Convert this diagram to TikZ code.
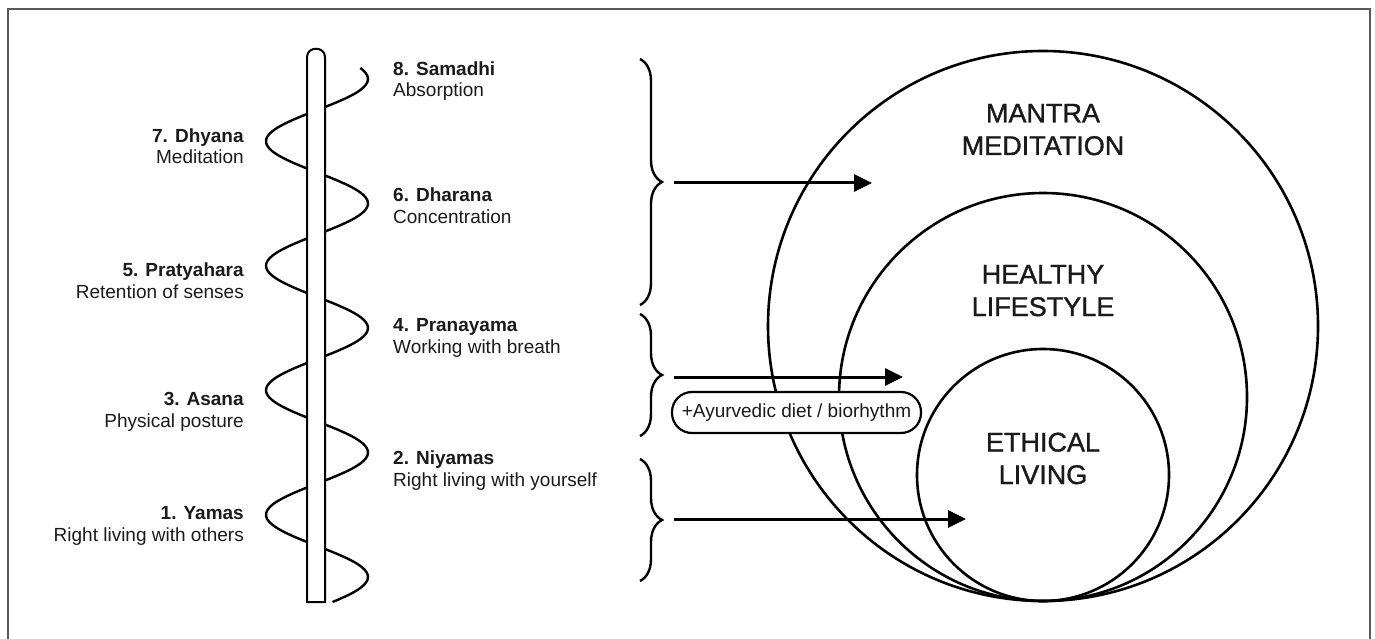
\documentclass[tikz,border=0pt]{standalone}
\usepackage{fontspec}
\setmainfont{Liberation Sans}
\newfontfamily\ringfont{Liberation Sans}[FakeBold=1.2]
\usepackage{xcolor}
\usepackage{tikz}
\usetikzlibrary{arrows.meta, decorations.pathreplacing}

\definecolor{ink}{HTML}{1A1A1A}
\definecolor{rim}{HTML}{5A5A5A}

\begin{document}
\begin{tikzpicture}[
    x=1pt, y=-1pt,
    limb/.style={text=ink, inner sep=0pt, font=\fontsize{19}{21.5}\selectfont},
    leftlimb/.style={limb, anchor=base east, align=right},
    rightlimb/.style={limb, anchor=base west, align=left},
    ring/.style={circle, draw, line width=2.6pt, inner sep=0pt},
    ringlabel/.style={text=ink, anchor=base, align=center, font=\ringfont\fontsize{27}{32.5}\selectfont},
    curly/.style={decorate, decoration={brace, amplitude=22pt}, line width=2.4pt},
    arrow/.style={-{Triangle[length=18pt, width=17pt]}, line width=3pt},
    pill/.style={rectangle, rounded corners=20pt, draw, fill=white, line width=2.2pt, minimum width=249pt, minimum height=41pt, text=ink, font=\fontsize{19}{21.5}\selectfont}
]
\useasboundingbox (0,0) rectangle (1375,639);

% frame
\draw[rim, line width=2.2pt] (8,639) -- (8,9) -- (1370,9) -- (1370,639);

% spiral round the pole
\draw[line width=2.4pt] plot[domain=68:602, samples=220, smooth] ({317+51*cos(2.8916*(\x-79))}, \x);
\draw[line width=2pt, fill=white] (307,602) -- (307,57) .. controls (307,46) and (325,46) .. (325,57) -- (325,602) -- cycle;

% the eight limbs
\node[rightlimb] (samadhi) at (393,97) {\textbf{8. Samadhi}\\Absorption};
\node[leftlimb] (dhyana) at (244,164) {\textbf{7. Dhyana}\\Meditation};
\node[rightlimb] (dharana) at (393,223) {\textbf{6. Dharana}\\Concentration};
\node[leftlimb] (pratyahara) at (244,298) {\textbf{5. Pratyahara}\\Retention of senses};
\node[rightlimb] (pranayama) at (393,353) {\textbf{4. Pranayama}\\Working with breath};
\node[leftlimb] (asana) at (244,427) {\textbf{3. Asana}\\Physical posture};
\node[rightlimb] (niyamas) at (393,486) {\textbf{2. Niyamas}\\Right living with yourself};
\node[leftlimb] (yamas) at (244,541) {\textbf{1. Yamas}\\Right living with others};

% circles
\node[ring, minimum size=550pt] (outer) at (1043,326) {};
\node[ring, minimum size=408pt] (middle) at (1043,397) {};
\node[ring, minimum size=252pt] (inner) at (1043,475) {};
\node[ringlabel] (mantra) at (1043,155) {MANTRA\\MEDITATION};
\node[ringlabel] (healthy) at (1043,316) {HEALTHY\\LIFESTYLE};
\node[ringlabel] (ethical) at (1043,484) {ETHICAL\\LIVING};

% braces
\draw[curly] (640,59) -- (640,305);
\draw[curly] (640,314) -- (640,436);
\draw[curly] (640,459) -- (640,581);

\coordinate (fromTop) at (674,183);
\coordinate (toTop) at (872,183);
\coordinate (fromMid) at (674,377);
\coordinate (toMid) at (903,377);
\coordinate (fromLow) at (674,519);
\coordinate (toLow) at (966,519);

\draw[arrow] (fromTop) -- (toTop);
\draw[arrow] (fromMid) -- (toMid);
\draw[arrow] (fromLow) -- (toLow);

\node[pill] (diet) at (796.5,412.5) {+Ayurvedic diet / biorhythm};

\end{tikzpicture}
\end{document}
